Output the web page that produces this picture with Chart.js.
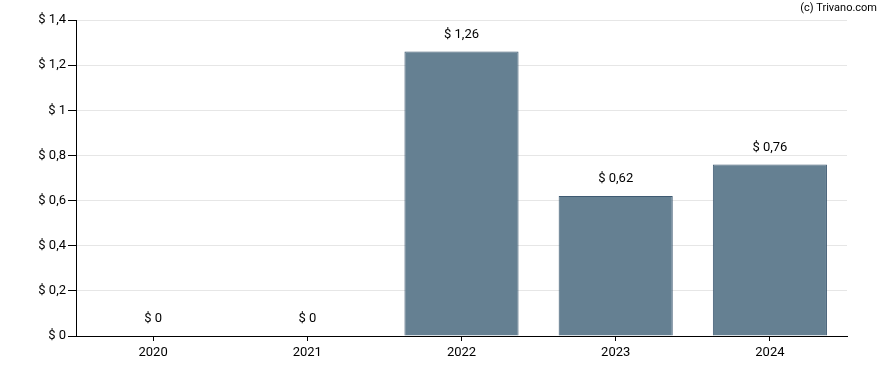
<!DOCTYPE html>
<html>
<head>
<meta charset="utf-8">
<script src="https://cdn.jsdelivr.net/npm/chart.js@4"></script>
<style>
  html, body { margin: 0; padding: 0; background: #fff; }
  #wrap { width: 888px; height: 370px; position: relative; }
</style>
</head>
<body>
<div id="wrap"><canvas id="chart"></canvas></div>
<script>
// ---- data ----
const years = ["2020", "2021", "2022", "2023", "2024"];
const dividends = [0, 0, 1.26, 0.62, 0.76];
const yTicks = [0, 0.2, 0.4, 0.6, 0.8, 1, 1.2, 1.4];

const fmt = (v) => "$ " + String(+v.toFixed(2)).replace(".", ",");

/* value labels above each bar + copyright */
const barLabels = {
  id: "barLabels",
  afterDatasetsDraw(chart) {
    const { ctx } = chart;
    const meta = chart.getDatasetMeta(0);
    ctx.save();
    ctx.font = "13px Roboto";
    ctx.fillStyle = "#000";
    ctx.textAlign = "center";
    ctx.textBaseline = "middle";
    meta.data.forEach((bar, i) => {
      ctx.fillText(fmt(dividends[i]), bar.x, bar.y - 17);
    });
    ctx.font = "11px Roboto";
    ctx.textAlign = "right";
    ctx.fillText("(c) Trivano.com", 877, 8);
    ctx.restore();
  },
};

new Chart(document.getElementById("chart"), {
  type: "bar",
  data: {
    labels: years,
    datasets: [
      {
        data: dividends,
        backgroundColor: "#658092",
        borderColor: "#3e5a72",
        borderWidth: 1,
        barPercentage: 0.74,
        categoryPercentage: 1,
      },
    ],
  },
  options: {
    responsive: true,
    maintainAspectRatio: false,
    animation: false,
    layout: { padding: { top: 20, right: 41, left: 0, bottom: 0 } },
    plugins: { legend: { display: false }, tooltip: { enabled: false } },
    scales: {
      x: {
        offset: true,
        grid: { offset: false, drawOnChartArea: false, tickColor: "#000", tickLength: 5 },
        border: { color: "#000", width: 1 },
        ticks: { color: "#000", font: { family: "Roboto", size: 13 }, padding: 4 },
        afterFit: (axis) => { axis.height = 34; },
      },
      y: {
        min: 0,
        max: 1.4,
        afterBuildTicks: (axis) => { axis.ticks = yTicks.map((v) => ({ value: v })); },
        grid: { color: "#e6e6e6", tickColor: "#000", tickLength: 8 },
        border: { color: "#000", width: 1 },
        ticks: {
          color: "#000",
          font: { family: "Roboto", size: 13 },
          padding: 2,
          callback: (v) => fmt(v),
        },
        afterFit: (axis) => { axis.width = 76; },
      },
    },
  },
  plugins: [barLabels],
});
</script>
</body>
</html>
